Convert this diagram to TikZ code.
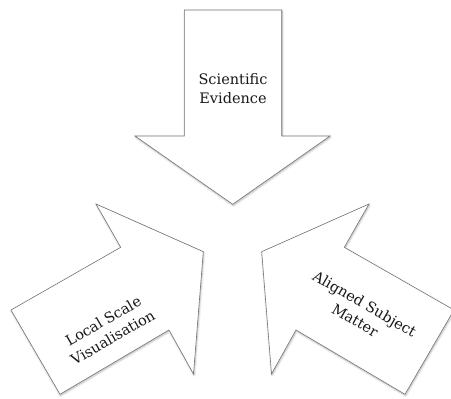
\documentclass[tikz,border=0pt]{standalone}
\usepackage{fontspec}
\setmainfont{DejaVu Serif}
\usetikzlibrary{shadows.blur}
\tikzset{
  arrowshape/.style={draw=black!55, line width=0.6pt, fill=white, line join=miter,
    blur shadow={shadow blur steps=6, shadow xshift=0.6pt, shadow yshift=-1.2pt, shadow blur radius=2pt, shadow opacity=30}},
  label/.style={align=center, font=\fontsize{14.5}{19}\selectfont, text=black!90, inner sep=0pt}
}
\begin{document}
\begin{tikzpicture}[x=1pt, y=-1pt]
\useasboundingbox (0,0) rectangle (451,399);
\clip (0,0) rectangle (451,399);
% top arrow
\path[arrowshape] (184.3,10) -- (281.7,10) -- (281.7,136) -- (330,136) -- (232.7,204.3)
  -- (135,136) -- (184.3,136) -- cycle;
% left arrow
\path[arrowshape] (60,394.3) -- (11,310) -- (120.7,247.3) -- (96,204) -- (203.3,251.7)
  -- (193.5,374) -- (169,330) -- cycle;
% right arrow
\path[arrowshape] (405,394.3) -- (454,310) -- (344.3,247.3) -- (369,204) -- (261.7,251.7)
  -- (271.5,374) -- (296,330) -- cycle;
\node[label] (sci) at (233,89) {Scientific\\Evidence};
\node[label, rotate=30] (loc) at (108,329) {Local Scale\\Visualisation};
\node[label, rotate=-30] (ali) at (360,312) {Aligned Subject\\Matter};
\end{tikzpicture}
\end{document}
